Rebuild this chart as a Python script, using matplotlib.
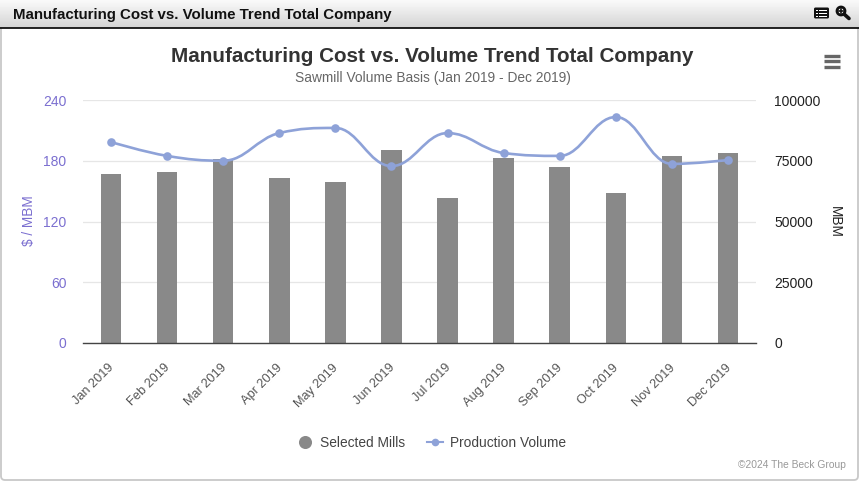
from matplotlib import pyplot as plt
from matplotlib.patches import Circle, FancyBboxPatch, PathPatch, Rectangle
from matplotlib.path import Path
from matplotlib.lines import Line2D
from matplotlib.transforms import ScaledTranslation
import numpy as np

months = ['Jan 2019', 'Feb 2019', 'Mar 2019', 'Apr 2019', 'May 2019', 'Jun 2019',
          'Jul 2019', 'Aug 2019', 'Sep 2019', 'Oct 2019', 'Nov 2019', 'Dec 2019']
selected_mills = [167, 169, 182, 163, 159, 190.5, 143, 183, 174, 148, 185, 187.5]
production_volume = [82700, 77000, 75000, 86400, 88500, 72800, 86400, 78200, 77000, 93000, 73700, 75300]
cost_ticks = [0, 60, 120, 180, 240]
volume_ticks = [0, 25000, 50000, 75000, 100000]

W, H = 859, 483
plt.rcParams['font.family'] = ['Liberation Sans', 'DejaVu Sans']


def spline_path(xs, ys):
    # same control points as a highcharts spline
    verts = [(xs[0], ys[0])]
    codes = [Path.MOVETO]
    last = (xs[0], ys[0])
    n = len(xs)
    for i in range(1, n):
        x, y = xs[i], ys[i]
        if i < n - 1:
            lx = (1.5 * x + xs[i - 1]) / 2.5
            ly = (1.5 * y + ys[i - 1]) / 2.5
            rx = (1.5 * x + xs[i + 1]) / 2.5
            ry = (1.5 * y + ys[i + 1]) / 2.5
            corr = (ry - ly) * (rx - x) / (rx - lx) + y - ry
            ly += corr
            ry += corr
            if ly > ys[i - 1] and ly > y:
                ly = max(ys[i - 1], y)
                ry = 2 * y - ly
            elif ly < ys[i - 1] and ly < y:
                ly = min(ys[i - 1], y)
                ry = 2 * y - ly
            if ry > ys[i + 1] and ry > y:
                ry = max(ys[i + 1], y)
                ly = 2 * y - ry
            elif ry < ys[i + 1] and ry < y:
                ry = min(ys[i + 1], y)
                ly = 2 * y - ry
        else:
            lx, ly, rx, ry = x, y, x, y
        verts += [last, (lx, ly), (x, y)]
        codes += [Path.CURVE4] * 3
        last = (rx, ry)
    return Path(verts, codes)


fig = plt.figure(figsize=(W / 100, H / 100), dpi=100, facecolor='white')

# page frame and header bar, in pixel coordinates
bg = fig.add_axes([0, 0, 1, 1])
bg.axis('off')
bg.add_patch(FancyBboxPatch((1, 15), 857, 465, boxstyle='round,pad=0,rounding_size=4',
                            fc='white', ec='#c8c8c8', lw=1.3, zorder=1))
grad = np.linspace(0.98, 0.83, 32).reshape(-1, 1)
bg.imshow(grad, extent=[0, W, 28, 0], cmap='gray', vmin=0, vmax=1, aspect='auto', zorder=2)
bg.set_xlim(0, W)
bg.set_ylim(H, 0)
bg.plot([0, W], [28, 28], color='#111111', lw=1.3, zorder=3)
bg.text(13, 15, 'Manufacturing Cost vs. Volume Trend Total Company', fontsize=10.8,
        fontweight='bold', color='#111111', va='center', ha='left', zorder=4)

# table icon
bg.add_patch(FancyBboxPatch((814, 7.5), 15, 11, boxstyle='round,pad=0,rounding_size=1.5',
                            fc='#111111', ec='none', zorder=4))
for yy in [10, 13, 16]:
    bg.add_patch(Rectangle((816, yy - 0.5), 1.6, 1, fc='white', ec='none', zorder=5))
    bg.add_patch(Rectangle((819, yy - 0.5), 8, 1, fc='white', ec='none', zorder=5))
# zoom icon
bg.add_patch(Circle((841, 11), 4, fc='white', ec='#111111', lw=2.0, zorder=4))
bg.plot([844, 849], [14, 18.5], color='#111111', lw=2.6, solid_capstyle='round', zorder=4)
bg.plot([839, 843], [11, 11], color='#111111', lw=1.2, zorder=5)
bg.plot([841, 841], [9, 13], color='#111111', lw=1.2, zorder=5)
# hamburger menu
for yy in [55.5, 61, 66.5]:
    bg.plot([824, 840], [yy, yy], color='#666666', lw=2.4, solid_capstyle='butt', zorder=4)

bg.text(432, 56, 'Manufacturing Cost vs. Volume Trend Total Company', fontsize=14.85,
        fontweight='bold', color='#333333', ha='center', va='center')
bg.text(432.5, 78, 'Sawmill Volume Basis (Jan 2019 - Dec 2019)', fontsize=9.9,
        color='#666666', ha='center', va='center')
bg.text(846, 465.5, '©2024 The Beck Group', fontsize=7.4, color='#999999', ha='right', va='center')

# legend
leg_handles = [
    Line2D([], [], marker='o', ls='none', ms=9.4, color='#898989', mew=0),
    Line2D([], [], marker='o', ls='-', lw=1.5, ms=5.5, color='#8ea2d8', mew=0),
]
bg.legend(leg_handles, ['Selected Mills', 'Production Volume'], loc='center', ncol=2,
          bbox_to_anchor=(431.5 / W, 1 - 443 / H), bbox_transform=fig.transFigure, frameon=False,
          fontsize=9.9, labelcolor='#444444', handlelength=1.15, handletextpad=0.5, columnspacing=1.6,
          numpoints=1)

# chart axes
left, right, top, bottom = 83, 756, 100, 343
ax = fig.add_axes([left / W, 1 - bottom / H, (right - left) / W, (bottom - top) / H])
ax.patch.set_alpha(0)
x = np.arange(len(months))
ax.bar(x, selected_mills, width=0.365, color='#898989', zorder=2)
ax.set_xlim(-0.5, len(months) - 0.5)
ax.set_ylim(0, 240)
ax.set_yticks(cost_ticks)
ax.set_xticks(x)
ax.set_xticklabels(months, rotation=45, ha='right', rotation_mode='anchor', fontsize=9.2, color='#555555')
ax.tick_params(axis='x', length=0, pad=12)
shift = ScaledTranslation(-3 / 100, -2 / 100, fig.dpi_scale_trans)
for lab in ax.get_xticklabels():
    lab.set_transform(lab.get_transform() + shift)
ax.tick_params(axis='y', length=0, pad=12, labelsize=10, labelcolor='#7b6fd0')
ax.grid(axis='y', color='#e6e6e6', lw=0.9, zorder=0)
ax.set_axisbelow(True)
for s in ['top', 'left', 'right']:
    ax.spines[s].set_visible(False)
ax.spines['bottom'].set_color('#444444')
ax.spines['bottom'].set_linewidth(1.0)
ax.set_ylabel('$ / MBM', fontsize=9.8, color='#7b6fd0', va='center')
ax.yaxis.set_label_coords((28.5 - left) / (right - left), 0.505)

ax2 = ax.twinx()
ax2.set_ylim(0, 100000)
ax2.set_yticks(volume_ticks)
ax2.tick_params(axis='y', length=0, pad=13, labelsize=10, labelcolor='#222222')
for s in ax2.spines.values():
    s.set_visible(False)
ax2.add_patch(PathPatch(spline_path(list(x), production_volume), fc='none', ec='#8ea2d8', lw=1.9, zorder=3))
ax2.plot(x, production_volume, ls='none', marker='o', ms=6.2, color='#8ea2d8', mew=0, zorder=4)
ax2.set_ylabel('MBM', fontsize=9.8, color='#222222', rotation=270, va='center')
ax2.yaxis.set_label_coords((834.5 - left) / (right - left), 0.5)

fig.savefig('out.png', dpi=100)
